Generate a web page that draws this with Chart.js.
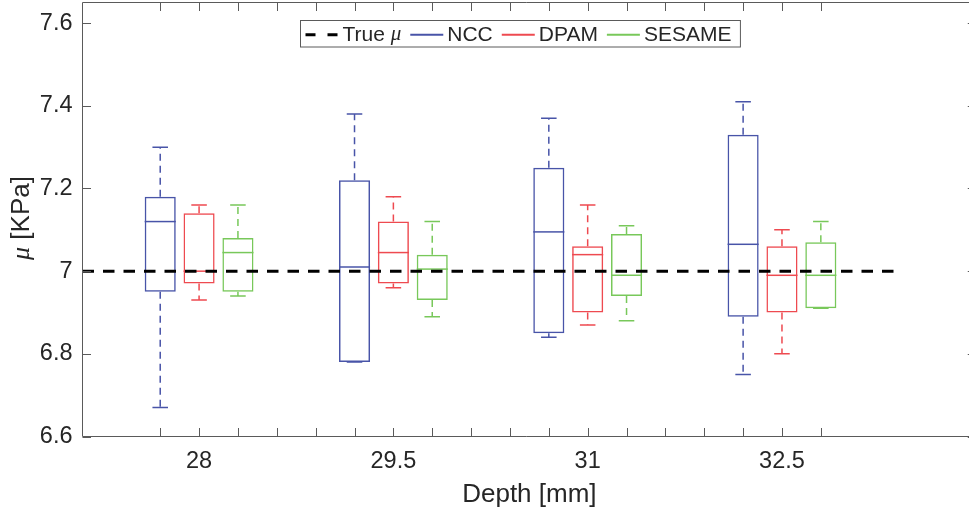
<!DOCTYPE html>
<html>
<head>
<meta charset="utf-8">
<script src="https://cdn.jsdelivr.net/npm/chart.js@4/dist/chart.umd.min.js"></script>
<style>
  html, body { margin: 0; padding: 0; background: #ffffff; overflow: hidden; width: 969px; height: 516px; }
  canvas { display: block; }
</style>
</head>
<body>
<canvas id="chart" width="969" height="516"></canvas>
<script>
// Depth groups along the x axis
const depths = ['28', '29.5', '31', '32.5'];
const seriesNames = ['NCC', 'DPAM', 'SESAME'];

// Box statistics per depth: [lower whisker, Q1, median, Q3, upper whisker] in KPa
const ncc = [
  [6.67, 6.95, 7.12, 7.18, 7.30],
  [6.78, 6.78, 7.01, 7.22, 7.38],
  [6.84, 6.85, 7.095, 7.25, 7.37],
  [6.75, 6.89, 7.065, 7.33, 7.41]
];
const dpam = [
  [6.93, 6.97, 7.00, 7.14, 7.16],
  [6.96, 6.97, 7.045, 7.12, 7.18],
  [6.87, 6.90, 7.04, 7.06, 7.16],
  [6.80, 6.90, 6.99, 7.06, 7.10]
];
const sesame = [
  [6.94, 6.95, 7.045, 7.08, 7.16],
  [6.89, 6.93, 7.005, 7.04, 7.12],
  [6.88, 6.94, 6.99, 7.09, 7.11],
  [6.91, 6.91, 6.99, 7.07, 7.12]
];
const trueMu = 7;
const trueMuSpan = [-1, 20];

const yTickValues = [6.6, 6.8, 7, 7.2, 7.4, 7.6];
const yTickLabels = ['6.6', '6.8', '7', '7.2', '7.4', '7.6'];

const seriesStats = [ncc, dpam, sesame];
const seriesColors = ['#4854a8', '#ee4a50', '#78c85a'];

// Boxes sit at slots 1,2,3 / 6,7,8 / 11,12,13 / 16,17,18
const GROUP_STRIDE = 5;
const slotOf = (g, s) => 1 + g * GROUP_STRIDE + s;
const slotCount = slotOf(depths.length - 1, seriesNames.length - 1);
const labelSlots = depths.map((_, g) => slotOf(g, 1));

// Axes box spans slots -1..22; the canvas cuts it just before its right edge
const X_MIN = -1, X_FRAME_MAX = 22, X_VISIBLE_MAX = 21.8;

const SANS = '"Liberation Sans", Arial, Helvetica, sans-serif';
const SERIF = '"Liberation Serif", "DejaVu Serif", serif';
const TEXT = '#262626';
const AXIS = '#5a5a5a';

const boxDatasets = seriesNames.map((name, s) => ({
  type: 'bar',
  label: name,
  data: seriesStats[s].map((st, g) => ({ x: slotOf(g, s), y: [st[1], st[3]] })),
  stats: seriesStats[s],
  backgroundColor: 'rgba(0,0,0,0)',
  borderColor: seriesColors[s],
  borderWidth: 1.5,
  borderSkipped: false,
  grouped: false,
  barPercentage: 0.8,
  categoryPercentage: 1,
  order: 1
}));

const trueLine = {
  type: 'line',
  label: 'True μ',
  data: trueMuSpan.map(x => ({ x, y: trueMu })),
  borderColor: '#000000',
  borderWidth: 3,
  borderDash: [11.5, 9],
  pointRadius: 0,
  fill: false,
  order: 0
};

// Medians, dashed whiskers and end caps for each box
const boxExtras = {
  id: 'boxExtras',
  afterDatasetDraw(chart, args) {
    const meta = args.meta;
    if (meta.type !== 'bar') return;
    const ds = chart.data.datasets[args.index];
    const y = chart.scales.y;
    const ctx = chart.ctx;
    ctx.save();
    ctx.strokeStyle = ds.borderColor;
    ctx.lineWidth = 1.5;
    meta.data.forEach((bar, i) => {
      const st = ds.stats[i];
      const cx = bar.x;
      const hw = bar.width / 2;
      const capHw = hw / 2;
      const py = v => y.getPixelForValue(v);
      // median
      ctx.setLineDash([]);
      ctx.beginPath();
      ctx.moveTo(cx - hw, py(st[2]));
      ctx.lineTo(cx + hw, py(st[2]));
      ctx.stroke();
      // whiskers
      ctx.setLineDash([7, 5]);
      ctx.beginPath();
      ctx.moveTo(cx, py(st[3]));
      ctx.lineTo(cx, py(st[4]));
      ctx.moveTo(cx, py(st[1]));
      ctx.lineTo(cx, py(st[0]));
      ctx.stroke();
      // caps
      ctx.setLineDash([]);
      ctx.beginPath();
      ctx.moveTo(cx - capHw, py(st[4]));
      ctx.lineTo(cx + capHw, py(st[4]));
      ctx.moveTo(cx - capHw, py(st[0]));
      ctx.lineTo(cx + capHw, py(st[0]));
      ctx.stroke();
    });
    ctx.restore();
  }
};

// Axes lines (left, top, bottom) with inward tick marks, plus axis titles
const axesFrame = {
  id: 'axesFrame',
  afterDraw(chart) {
    const { ctx, chartArea: a, scales } = chart;
    const tick = 8.5;
    const frameRight = scales.x.getPixelForValue(X_FRAME_MAX);
    const L = a.left, T = a.top, B = a.bottom;
    ctx.save();
    ctx.strokeStyle = AXIS;
    ctx.lineWidth = 1;
    ctx.setLineDash([]);
    ctx.beginPath();
    ctx.moveTo(frameRight, T); ctx.lineTo(L, T); ctx.lineTo(L, B); ctx.lineTo(frameRight, B);
    scales.x.ticks.forEach(t => {
      const px = Math.round(scales.x.getPixelForValue(t.value)) + 0.5;
      ctx.moveTo(px, B); ctx.lineTo(px, B - tick);
      ctx.moveTo(px, T); ctx.lineTo(px, T + tick);
    });
    scales.y.ticks.forEach(t => {
      const py = Math.round(scales.y.getPixelForValue(t.value)) + 0.5;
      ctx.moveTo(L, py); ctx.lineTo(L + tick, py);
      ctx.moveTo(frameRight, py); ctx.lineTo(frameRight - tick, py);
    });
    ctx.stroke();

    // x title, centred under the full axes box
    ctx.fillStyle = TEXT;
    ctx.textBaseline = 'middle';
    ctx.textAlign = 'center';
    ctx.font = '26px ' + SANS;
    ctx.fillText('Depth [mm]', (L + frameRight) / 2, 495);

    // y title: italic mu followed by unit
    const parts = [['μ', 'italic 26px ' + SERIF], [' [KPa]', '26px ' + SANS]];
    let total = 0;
    parts.forEach(p => { ctx.font = p[1]; total += ctx.measureText(p[0]).width; });
    ctx.translate(22, 218);
    ctx.rotate(-Math.PI / 2);
    ctx.textAlign = 'left';
    let x = -total / 2;
    parts.forEach(p => { ctx.font = p[1]; ctx.fillText(p[0], x, 0); x += ctx.measureText(p[0]).width; });
    ctx.restore();
  }
};

// Boxed legend across the top of the plot
const boxLegend = {
  id: 'boxLegend',
  afterDraw(chart) {
    const ctx = chart.ctx;
    const size = 21;
    const sans = size + 'px ' + SANS;
    const ital = 'italic ' + size + 'px ' + SERIF;
    const items = [
      { color: '#000000', dash: [10, 12], width: 3, parts: [['True ', sans], ['μ', ital]] }
    ].concat(seriesNames.map((n, s) => ({ color: seriesColors[s], dash: [], width: 2, parts: [[n, sans]] })));
    const lineLen = 33, gapLT = 4, gapItem = 9, padL = 5, padR = 9;
    items.forEach(it => {
      it.w = 0;
      it.parts.forEach(p => { ctx.font = p[1]; it.w += ctx.measureText(p[0]).width; });
    });
    const total = padL + padR + items.reduce((s, it) => s + lineLen + gapLT + it.w, 0) + gapItem * (items.length - 1);
    const cx = 519.7, top = 20.5, h = 26.5;
    const left = Math.round(cx - total / 2) + 0.5;
    const midY = top + h / 2 + 1;
    ctx.save();
    ctx.fillStyle = '#ffffff';
    ctx.fillRect(left, top, total, h);
    ctx.strokeStyle = AXIS;
    ctx.lineWidth = 1;
    ctx.strokeRect(left, top, total, h);
    let x = left + padL;
    items.forEach(it => {
      ctx.strokeStyle = it.color;
      ctx.lineWidth = it.width;
      ctx.setLineDash(it.dash);
      ctx.beginPath();
      ctx.moveTo(x, midY);
      ctx.lineTo(x + lineLen, midY);
      ctx.stroke();
      x += lineLen + gapLT;
      ctx.fillStyle = TEXT;
      ctx.textBaseline = 'middle';
      ctx.textAlign = 'left';
      it.parts.forEach(p => { ctx.font = p[1]; ctx.fillText(p[0], x, midY); x += ctx.measureText(p[0]).width; });
      x += gapItem;
    });
    ctx.restore();
  }
};

// Keep the plot area at fixed pixel edges (no extra room for overhanging tick labels)
const zeroPadding = scale => {
  scale.paddingTop = 0;
  scale.paddingBottom = 0;
  scale.paddingLeft = 0;
  scale.paddingRight = 0;
};

new Chart(document.getElementById('chart'), {
  type: 'bar',
  data: { datasets: [...boxDatasets, trueLine] },
  options: {
    responsive: false,
    maintainAspectRatio: false,
    animation: false,
    devicePixelRatio: 1,
    layout: { padding: { top: 2.5, right: 0.5, left: 0, bottom: 0 } },
    plugins: { legend: { display: false }, tooltip: { enabled: false } },
    scales: {
      x: {
        type: 'linear',
        min: X_MIN,
        max: X_VISIBLE_MAX,
        offset: false,
        grid: { display: false, drawTicks: false, offset: false },
        border: { display: false },
        afterBuildTicks: scale => {
          scale.ticks = Array.from({ length: slotCount }, (_, i) => ({ value: i + 1 }));
        },
        ticks: {
          autoSkip: false,
          maxRotation: 0,
          padding: 11,
          color: TEXT,
          font: { family: SANS, size: 23.5 },
          callback: v => {
            const g = labelSlots.indexOf(v);
            return g >= 0 ? depths[g] : '';
          }
        },
        afterFit: scale => { scale.height = 79.5; zeroPadding(scale); }
      },
      y: {
        type: 'linear',
        min: 6.6,
        max: 7.65,
        grid: { display: false, drawTicks: false },
        border: { display: false },
        afterBuildTicks: scale => {
          scale.ticks = yTickValues.map(v => ({ value: v }));
        },
        ticks: {
          padding: 10,
          color: TEXT,
          font: { family: SANS, size: 23.5 },
          callback: v => {
            const i = yTickValues.findIndex(t => Math.abs(t - v) < 1e-9);
            return i >= 0 ? yTickLabels[i] : '';
          }
        },
        afterFit: scale => { scale.width = 82.5; zeroPadding(scale); }
      }
    }
  },
  plugins: [boxExtras, axesFrame, boxLegend]
});
</script>
</body>
</html>
